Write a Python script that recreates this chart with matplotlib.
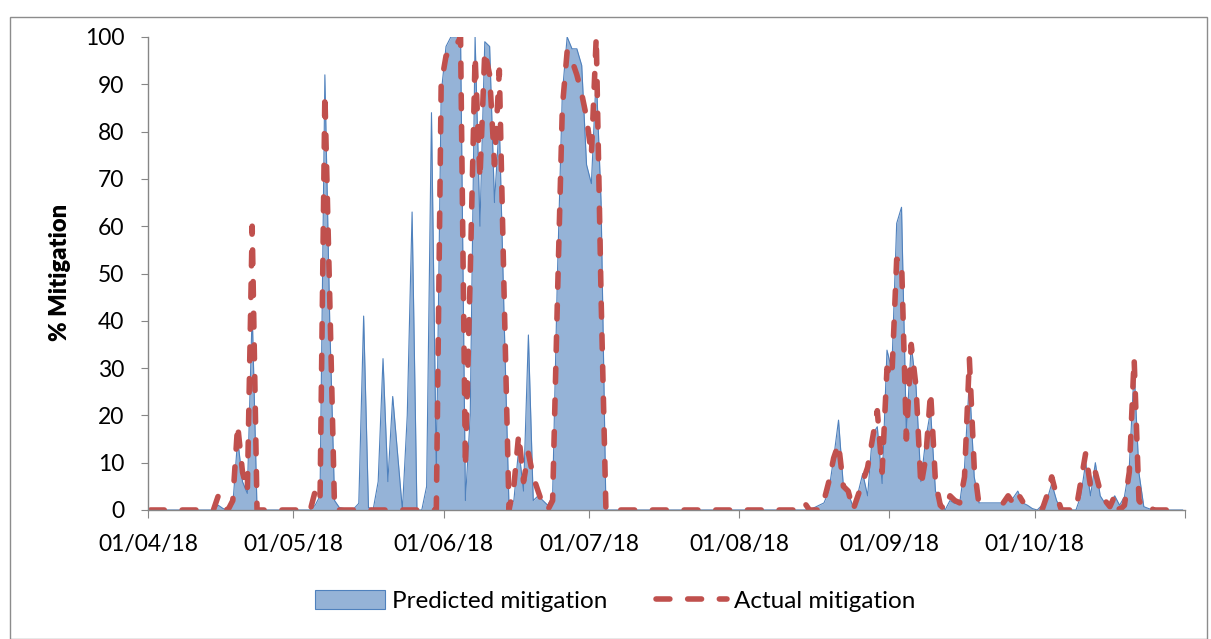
import numpy as np
import pandas as pd
import matplotlib
matplotlib.use('Agg')
import matplotlib.pyplot as plt
from matplotlib.patches import Patch, Rectangle
from matplotlib.lines import Line2D

nan = np.nan

# daily % mitigation, 1 Apr 2018 - 31 Oct 2018
pred_apr = [0]*14 + [1, 0.3, 0, 1, 15, 6, 3.5, 42] + [0]*8
act_apr = [0]*14 + [3, 0.5, 0, 2, 18, 8, 4, 60] + [0]*8

pred_may = [0, 0, 0, 0, 1, 3, 92, 40, 2, 0.5,
            0.3, 0.3, 0.3, 1.4, 41, 0.5, 0.3, 6, 32, 6,
            24, 12, 0, 20, 63, 0, 0, 5, 84, 8,
            88]
act_may = [0, 0, 0, 0, 4, 2, 88, 45, 0] + [0]*21 + [90]

pred_jun = [98, 100, 100, 100, 2, 20, 100, 60, 99, 98,
            65, 82, 40, 0.5, 2, 13, 4, 37, 2, 3,
            2, 1, 3, 50, 88, 100, 97.5, 97.5, 94, 73]
act_jun = [96, 97, 98, 100, 9, 50, 96, 70, 97, 92,
           73, 93, 45, 0, 5, 16, 6, 12, 7, 4,
           1, 0, 2, 45, 85, 97, 95, 92, 88, 83]

pred_jul = [69, 92, 65, 0] + [0]*27
act_jul = [75, 100, 45, 0] + [0]*27

pred_aug = [0]*15 + [0.5, 1, 1.5, 4, 11, 19, 5, 3.5, 0.7, 3.5,
                     7.7, 3, 16, 17.6, 5.6, 33.8]
act_aug = [0]*13 + [1.5, 0, 0, 0, 2, 6, 11, 14, 5, 4,
                    0, 3, 6, 9, 15, 21, 8, 30]

pred_sep = [29.6, 60.6, 64, 16, 35, 26, 6, 15, 21, 4,
            2, 0, 2, 1.4, 1.4, 9, 27.5, 7, 1.5, 1.5,
            1.5, 1.5, 1.5, 1.5, 2, 2.5, 4, 1.5, 1, 0.3]
act_sep = [28, 53, 53, 15, 35, 26, 5, 11, 25, 6,
           1, 0, 3, 2, 1.5, 7, 32, 9, 1, nan,
           nan, nan, nan, 1.5, 3, 1.5, 3.5, 1.8, nan, nan]

pred_oct = [0, 1, 2, 5.6, 2, 0, 0, 0, 0, 3,
            10, 3, 10, 3, 1.4, 1.4, 3, 1, 2.8, 9,
            29.6, 7.8, 0.7, 0.3, 0] + [0]*6
act_oct = [nan, 0, 3, 7, 3, 0, 0, 0, 0, 6,
           12, 5, 8, 4, 2, 0.7, 3, 0, 1, 8,
           32, 2, 0.5, 1, 0] + [0]*6

pred = np.array(pred_apr + pred_may + pred_jun + pred_jul + pred_aug + pred_sep + pred_oct, dtype=float)
act = np.array(act_apr + act_may + act_jun + act_jul + act_aug + act_sep + act_oct, dtype=float)

days = pd.date_range('2018-04-01', '2018-10-31', freq='D')
x = days + pd.Timedelta(hours=12)   # points sit mid-day, like the Excel date axis

blue_fill = '#95B3D7'
blue_line = '#4F81BD'
red = '#C0504D'
grey = '#868686'
dash = (2.5, 3.2)

fig = plt.figure(figsize=(12.11, 6.39), dpi=100)
ax = fig.add_axes([148/1211, 1-510/639, (1185-148)/1211, (510-37)/639])

ax.fill_between(x, pred, 0, color=blue_fill, lw=0)
ax.plot(x, pred, color=blue_line, lw=0.8)
ax.plot(x, act, color=red, lw=4, dashes=dash, dash_capstyle='round')

ax.set_xlim(pd.Timestamp('2018-04-01'), pd.Timestamp('2018-11-01'))
ax.set_ylim(0, 100)
ticks = pd.date_range('2018-04-01', '2018-11-01', freq='MS')
ax.set_xticks(ticks)
ax.set_xticklabels([t.strftime('%d/%m/%y') for t in ticks[:-1]] + [''])
ax.set_yticks(range(0, 101, 10))

for s in ['top', 'right']:
    ax.spines[s].set_visible(False)
for s in ['left', 'bottom']:
    ax.spines[s].set_color(grey)
    ax.spines[s].set_linewidth(1)
ax.tick_params(axis='x', direction='out', length=6, color=grey, pad=11, labelsize=16.5)
ax.tick_params(axis='y', direction='out', length=5, color=grey, pad=12, labelsize=16.5)
for lab in ax.get_xticklabels() + ax.get_yticklabels():
    lab.set_family('Lato')

fig.text(60/1211, 1-272/639, '% Mitigation', rotation=90, ha='center', va='center',
         fontsize=17, fontweight='heavy', family='Lato')

handles = [Patch(facecolor=blue_fill, edgecolor=blue_line, lw=0.8),
           Line2D([0], [0], color=red, lw=4, dashes=dash, dash_capstyle='round')]
fig.legend(handles, ['Predicted mitigation', 'Actual mitigation'], loc='center',
           bbox_to_anchor=(615/1211, 1-601/639), ncol=2, frameon=False,
           prop={'family': 'Lato', 'size': 17.5}, handlelength=2.9, handleheight=0.8,
           columnspacing=2.0, handletextpad=0.3)

fig.patches.append(Rectangle((10/1211, 0), 1197/1211, 622/639, transform=fig.transFigure,
                             fill=False, edgecolor='#8C8C8C', lw=1))

fig.savefig('out.png', dpi=100)
